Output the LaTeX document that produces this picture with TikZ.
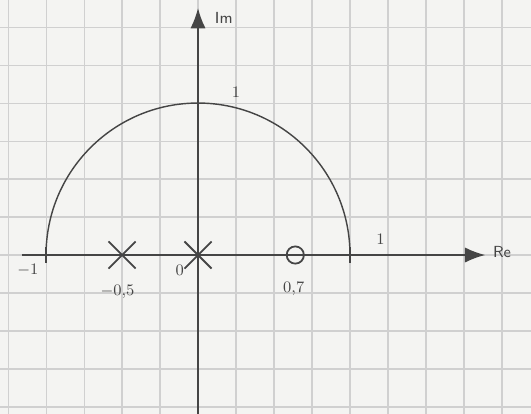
\documentclass[tikz,border=0pt]{standalone}
\usepackage{tikz}
\usetikzlibrary{arrows.meta,shapes.misc}
\definecolor{papier}{HTML}{F4F4F2}
\definecolor{grille}{HTML}{D0D0D0}
\definecolor{crayon}{HTML}{454545}
\tikzset{
  axe/.style={-{Latex[length=4mm,width=3mm]}, draw=crayon, line width=0.9pt},
  courbe/.style={draw=crayon, line width=0.8pt},
  pole/.style={cross out, draw=crayon, line width=1pt, minimum size=5mm, inner sep=0pt},
  zero/.style={circle, draw=crayon, line width=1pt, minimum size=3.4mm, inner sep=0pt},
  graduation/.style={draw=crayon, line width=1pt},
  etiquette/.style={font=\sffamily\small, color=crayon}
}

\begin{document}
\begin{tikzpicture}[x=3cm,y=3cm]

  % --- Feuille quadrillee
  \fill[papier] (-1.303,-1.046) rectangle (2.191,1.678);
  \useasboundingbox (-1.303,-1.046) rectangle (2.191,1.678);
  \draw[grille, line width=0.6pt, step=0.25] (-1.303,-1.046) grid (2.191,1.678);

  % --- Axes
  \coordinate (O)  at (0,0);
  \coordinate (xg) at (-1.16,0);
  \coordinate (xd) at (1.89,0);
  \coordinate (yb) at (0,-1.046);
  \coordinate (yh) at (0,1.625);
  \draw[axe] (xg) -- (xd);
  \draw[axe] (yb) -- (yh);
  \node[etiquette, anchor=west] (Re) at (1.9,0.02) {Re};
  \node[etiquette, anchor=west] (Im) at (0.07,1.56) {Im};

  % --- Lieu : demi-cercle de rayon 1
  \coordinate (A) at (-1,0);
  \coordinate (B) at (1,0);
  \draw[courbe] (A) arc[start angle=180, end angle=0, radius=1];
  \draw[graduation] (-1,-0.05) -- (-1,0.05);
  \draw[graduation] (1,-0.05) -- (1,0.05);

  % --- Poles et zero
  \node[pole] (p1) at (-0.5,0) {};
  \node[pole] (p2) at (0,0) {};
  \node[zero] (z1) at (0.64,0) {};

  % --- Valeurs
  \node[etiquette] (lm1) at (-1.12,-0.1)  {$-1$};
  \node[etiquette] (lp1) at (-0.53,-0.24) {$-0{,}5$};
  \node[etiquette] (lp2) at (-0.12,-0.1)  {$0$};
  \node[etiquette] (lz1) at (0.63,-0.22)  {$0{,}7$};
  \node[etiquette] (l1)  at (1.2,0.1)     {$1$};
  \node[etiquette] (li)  at (0.25,1.07)   {$1$};

\end{tikzpicture}
\end{document}
